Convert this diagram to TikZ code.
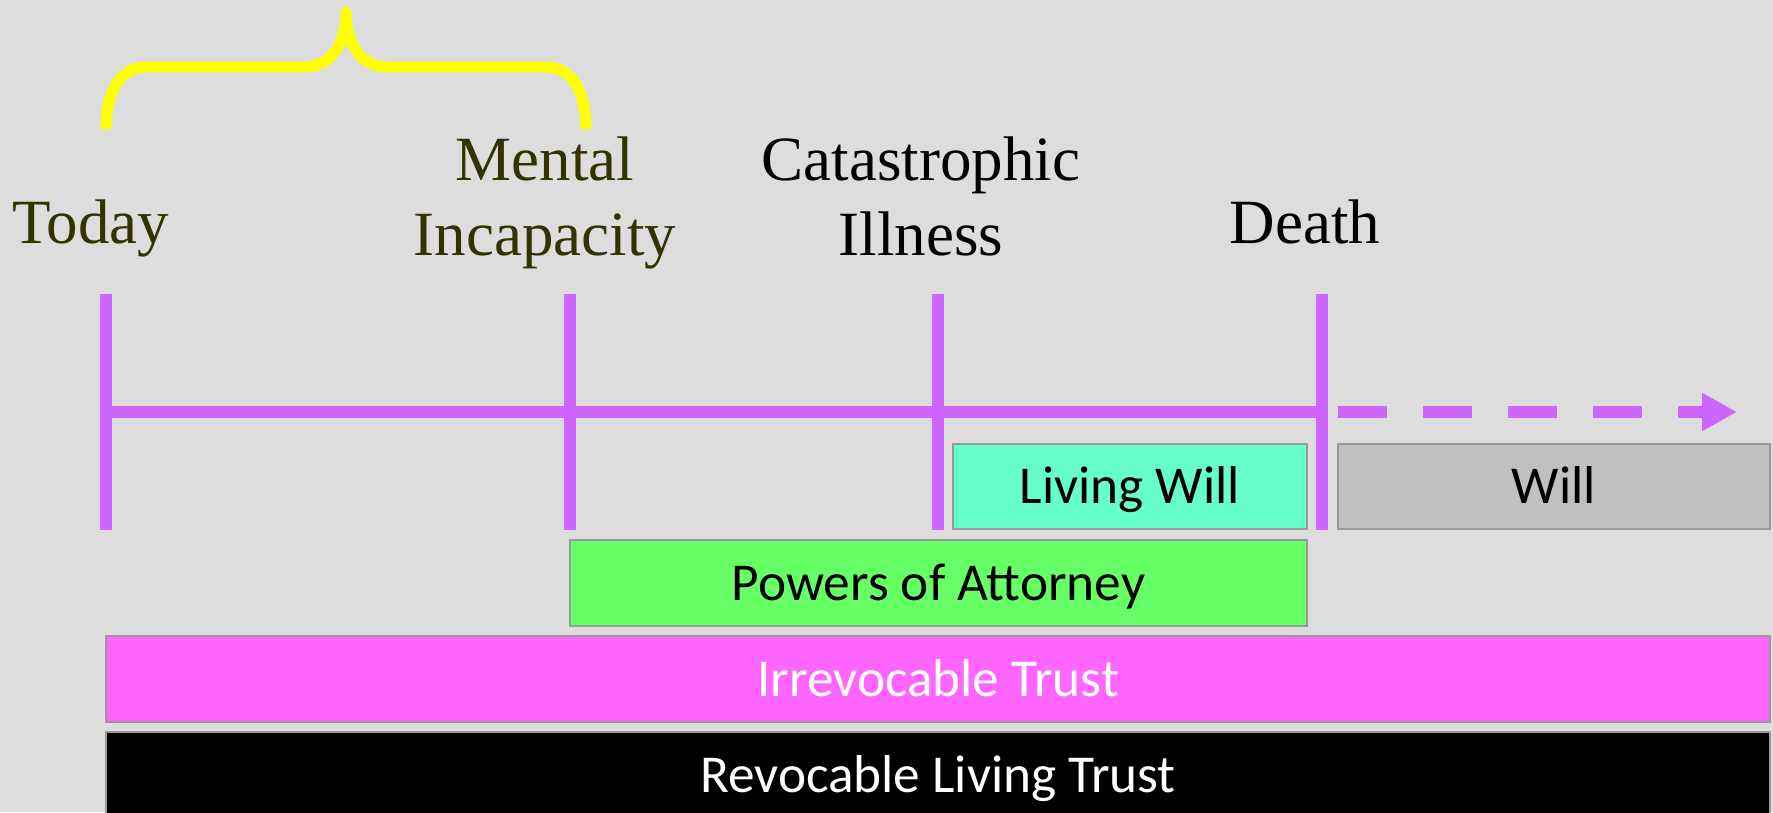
\documentclass[tikz,border=0pt]{standalone}
\usepackage{fontspec}
\setmainfont{Liberation Serif}
\newfontfamily\boxfont{Carlito}
\usetikzlibrary{arrows.meta}
\definecolor{bg}{HTML}{DDDDDD}
\definecolor{tlpurple}{HTML}{CC66FF}
\definecolor{olivetext}{HTML}{333300}
\definecolor{bordergray}{HTML}{999999}
\definecolor{lwfill}{HTML}{66FFCC}
\definecolor{willfill}{HTML}{C0C0C0}
\definecolor{poafill}{HTML}{66FF66}
\definecolor{irrfill}{HTML}{FF66FF}
\definecolor{bracey}{HTML}{FFFF00}
\begin{document}
\begin{tikzpicture}[x=1pt,y=-1pt,
  lbl/.style={font={\fontsize{63}{75}\selectfont}, inner sep=0pt, outer sep=0pt, align=center},
  bar/.style={draw=bordergray, line width=2pt, inner sep=0pt, outer sep=0pt,
    font={\boxfont\fontsize{53.3}{60}\selectfont}, text height=34.3pt, text depth=0pt, anchor=north west},
  tick/.style={draw=tlpurple, line width=12pt},
  brace/.style={draw=bracey, line width=11pt, line join=round}]
\useasboundingbox (0,0) rectangle (1773,812);
\fill[bg] (0,0) rectangle (1773,812);

% brace
\draw[brace] (106,129) .. controls (106,92) and (120,67) .. (146,67) -- (305,67)
  .. controls (330,67) and (346,45) .. (346,12)
  .. controls (346,45) and (362,67) .. (387,67) -- (546,67)
  .. controls (572,67) and (586,92) .. (586,129);

% labels (base anchor = baseline of the last line)
\node[lbl, text=olivetext, anchor=base] (today) at (91,243) {Today};
\node[lbl, text=olivetext, anchor=base] (mental) at (545,255) {Mental\\Incapacity};
\node[lbl, text=black, anchor=base] (cat) at (921,255) {Catastrophic\\Illness};
\node[lbl, text=black, anchor=base] (death) at (1305,243) {Death};

% timeline
\coordinate (a0) at (106,294); \coordinate (a1) at (106,530);
\coordinate (b0) at (570,294); \coordinate (b1) at (570,530);
\coordinate (c0) at (938,294); \coordinate (c1) at (938,530);
\coordinate (d0) at (1322,294); \coordinate (d1) at (1322,530);
\coordinate (hl) at (106,412); \coordinate (hr) at (1322,412);
\coordinate (ds) at (1338,412); \coordinate (de) at (1737,412);
\draw[tick] (a0) -- (a1);
\draw[tick] (b0) -- (b1);
\draw[tick] (c0) -- (c1);
\draw[tick] (d0) -- (d1);
\draw[tick] (hl) -- (hr);
\draw[tick, dash pattern=on 49pt off 36pt, -{Triangle[length=35pt,width=36pt]}] (ds) -- (de);

% bars
\node[bar, fill=lwfill, minimum width=354pt, minimum height=85pt] (lw) at (953,444) {Living Will};
\node[bar, fill=willfill, minimum width=432pt, minimum height=85pt] (will) at (1338,444) {Will};
\node[bar, fill=poafill, minimum width=737pt, minimum height=86pt] (poa) at (570,540) {Powers of Attorney};
\node[bar, fill=irrfill, text=white, minimum width=1664pt, minimum height=86pt] (irr) at (106,636) {Irrevocable Trust};
\node[bar, fill=black, text=white, minimum width=1664pt, minimum height=86pt] (rev) at (106,732) {Revocable Living Trust};
\end{tikzpicture}
\end{document}
